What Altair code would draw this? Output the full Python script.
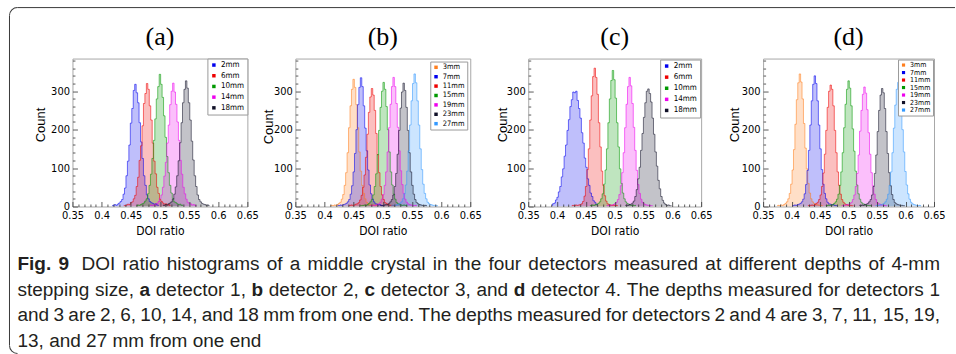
import math
import re
import altair as alt
import pandas as pd

# ---------------- data ----------------
BIN_WIDTH = 0.0025

a_labels = ["2mm", "6mm", "10mm", "14mm", "18mm"]
a_colors = ["#0000ee", "#ee0000", "#009900", "#ee00ee", "#101028"]
a_first = [0.418, 0.438, 0.460, 0.483, 0.505]
a_counts = [
    [2, 3, 5, 3, 6, 9, 13, 18, 32, 48, 80, 118, 160, 217, 255, 302, 318, 296, 270, 218, 168, 125, 80, 55, 30, 20, 13, 10, 8, 6, 7, 4, 3],
    [3, 2, 4, 6, 5, 10, 12, 20, 29, 52, 76, 120, 158, 210, 268, 294, 320, 305, 262, 225, 165, 118, 85, 50, 34, 18, 13, 9, 6, 7, 4, 5, 2],
    [2, 4, 3, 5, 7, 9, 14, 20, 33, 55, 84, 125, 172, 228, 280, 312, 344, 318, 284, 236, 180, 130, 88, 55, 35, 21, 12, 10, 7, 5, 6, 3, 4],
    [3, 4, 2, 5, 6, 8, 13, 21, 30, 50, 79, 115, 165, 212, 265, 300, 321, 298, 266, 220, 172, 120, 84, 50, 33, 19, 11, 8, 7, 4, 5, 3, 2],
    [4, 3, 5, 4, 7, 9, 12, 19, 32, 51, 80, 119, 166, 218, 270, 305, 327, 308, 270, 225, 170, 121, 80, 52, 30, 18, 12, 8, 6, 5, 3, 4, 2],
]

b_labels = ["3mm", "7mm", "11mm", "15mm", "19mm", "23mm", "27mm"]
b_colors = ["#ff7f1f", "#0000ee", "#ee0000", "#009900", "#ee00ee", "#101028", "#3399ff"]
b_first = [0.410, 0.4227, 0.4415, 0.4615, 0.4786, 0.4958, 0.5147]
b_counts = [
    [2, 3, 2, 4, 3, 5, 8, 11, 19, 31, 55, 88, 140, 205, 262, 305, 331, 310, 265, 205, 142, 92, 55, 34, 20, 11, 7, 5, 4, 3, 4, 2, 3],
    [3, 2, 4, 3, 5, 6, 8, 12, 18, 32, 54, 90, 138, 200, 265, 310, 335, 312, 262, 204, 145, 95, 56, 33, 19, 12, 7, 6, 4, 5, 3, 2, 3],
    [2, 3, 4, 3, 4, 6, 7, 10, 17, 29, 50, 82, 128, 188, 245, 285, 307, 290, 250, 190, 135, 88, 52, 30, 18, 10, 8, 5, 4, 3, 3, 2, 2],
    [3, 2, 3, 4, 3, 5, 8, 12, 18, 30, 52, 85, 135, 198, 258, 300, 323, 305, 260, 200, 142, 90, 56, 32, 19, 10, 7, 6, 4, 3, 4, 3, 2],
    [2, 3, 4, 2, 4, 6, 7, 11, 19, 31, 55, 90, 142, 205, 266, 312, 336, 312, 268, 206, 145, 93, 57, 34, 19, 11, 7, 5, 4, 3, 2, 3, 2],
    [3, 2, 3, 4, 5, 5, 8, 12, 18, 30, 52, 86, 136, 198, 256, 298, 321, 302, 258, 198, 140, 90, 55, 32, 18, 10, 7, 5, 4, 3, 2, 3, 2],
    [2, 3, 4, 3, 5, 6, 8, 12, 20, 33, 56, 92, 145, 212, 275, 320, 345, 322, 275, 212, 150, 96, 58, 34, 20, 11, 7, 5, 4, 3, 3, 2, 2],
]

c_labels = ["2mm", "6mm", "10mm", "14mm", "18mm"]
c_colors = ["#0000ee", "#ee0000", "#009900", "#ee00ee", "#101028"]
c_first = [0.391, 0.4255, 0.457, 0.486, 0.5186]
c_counts = [
    [3, 7, 9, 17, 24, 38, 52, 77, 98, 131, 160, 198, 226, 260, 278, 298, 296, 300, 276, 255, 230, 192, 165, 126, 102, 72, 55, 35, 26, 15, 11, 6, 5],
    [2, 3, 2, 4, 3, 4, 5, 7, 13, 27, 52, 96, 150, 225, 288, 338, 360, 336, 292, 218, 155, 92, 55, 28, 14, 7, 5, 4, 3, 4, 2, 3, 2],
    [2, 3, 4, 3, 5, 6, 8, 12, 20, 33, 58, 95, 150, 218, 280, 328, 354, 330, 282, 218, 155, 98, 60, 35, 20, 12, 8, 6, 4, 3, 4, 2, 3],
    [3, 2, 4, 3, 4, 5, 8, 11, 18, 31, 54, 88, 140, 205, 266, 312, 336, 314, 268, 206, 146, 94, 57, 34, 19, 11, 7, 5, 4, 3, 3, 2, 2],
    [3, 4, 3, 5, 6, 9, 14, 26, 44, 72, 102, 146, 190, 232, 270, 300, 306, 294, 272, 230, 188, 142, 105, 68, 46, 26, 16, 9, 5, 3, 4, 2, 2],
]

d_labels = ["3mm", "7mm", "11mm", "15mm", "19mm", "23mm", "27mm"]
d_colors = ["#ff7f1f", "#0000ee", "#ee0000", "#009900", "#ee00ee", "#101028", "#3399ff"]
d_first = [0.3746, 0.4008, 0.4287, 0.4601, 0.488, 0.519, 0.5474]
d_counts = [
    [2, 3, 2, 4, 3, 5, 8, 12, 20, 34, 58, 95, 148, 214, 278, 322, 345, 324, 280, 216, 152, 98, 60, 35, 20, 12, 8, 6, 5, 4, 3, 3, 2],
    [3, 2, 4, 3, 5, 6, 8, 12, 19, 33, 57, 94, 146, 212, 275, 318, 340, 320, 275, 212, 150, 96, 58, 34, 20, 11, 7, 6, 4, 5, 3, 2, 3],
    [2, 3, 3, 4, 3, 5, 8, 11, 18, 30, 52, 87, 136, 198, 258, 300, 316, 305, 262, 198, 140, 90, 55, 32, 18, 11, 7, 5, 4, 3, 3, 2, 2],
    [3, 2, 4, 3, 4, 5, 8, 12, 19, 32, 55, 90, 140, 205, 266, 305, 327, 308, 262, 202, 144, 92, 56, 33, 19, 11, 7, 6, 4, 3, 3, 2, 3],
    [2, 3, 3, 4, 5, 6, 8, 11, 18, 30, 52, 86, 134, 196, 250, 292, 311, 295, 252, 192, 136, 88, 54, 32, 18, 10, 7, 6, 4, 4, 3, 2, 2],
    [3, 2, 4, 3, 5, 6, 8, 12, 18, 30, 52, 86, 134, 195, 250, 290, 307, 296, 255, 195, 138, 88, 54, 31, 18, 10, 7, 5, 4, 3, 3, 2, 2],
    [2, 3, 3, 4, 5, 6, 8, 12, 19, 32, 55, 90, 140, 204, 264, 305, 323, 306, 262, 200, 142, 91, 56, 33, 19, 11, 7, 5, 4, 3, 2, 3, 2],
]

panel_titles = ["(a)", "(b)", "(c)", "(d)"]
x_major = [0.35, 0.4, 0.45, 0.5, 0.55, 0.6, 0.65]
x_minor = [round(0.35 + 0.01 * i, 2) for i in range(31)]
y_major = [0, 100, 200, 300]
y_minor = list(range(0, 381, 20))

caption_lines = [
    [("Fig. 9", True), ("  DOI ratio histograms of a middle crystal in the four detectors measured at different depths of 4-mm", False)],
    [("stepping size, ", False), ("a", True), (" detector 1, ", False), ("b", True), (" detector 2, ", False),
     ("c", True), (" detector 3, and ", False), ("d", True), (" detector 4. The depths measured for detectors 1", False)],
    [("and 3 are 2, 6, 10, 14, and 18 mm from one end. The depths measured for detectors 2 and 4 are 3, 7, 11, 15, 19,", False)],
    [("13, and 27 mm from one end", False)],
]

# ---------------- styling ----------------
NARROW = "Liberation Sans Narrow, Arial Narrow, DejaVu Sans Condensed, sans-serif"
SANS = "Liberation Sans, Arial, Helvetica, sans-serif"
SERIF = "Liberation Serif, Times New Roman, serif"
H = 148

X_MAJOR_TEST = "abs(datum.value*20 - round(datum.value*20)) < 0.001"
Y_MAJOR_TEST = "datum.value % 100 == 0"
dummy = pd.DataFrame({"v": [0]})


def make_panel(title, labels, colors, firsts, counts, width, legend_opts, count_x, count_y, extra=()):
    rows = []
    for lab, first, cs in zip(labels, firsts, counts):
        for i, c in enumerate(cs):
            rows.append({"series": lab, "ratio": round(first + i * BIN_WIDTH, 5), "count": c})
    df = pd.DataFrame(rows)
    xs = alt.Scale(domain=[0.35, 0.65], nice=False, zero=False)
    ys = alt.Scale(domain=[0, 385], nice=False, zero=True)
    area = alt.Chart(df).mark_area(
        interpolate="step", fillOpacity=0.25, clip=True,
        line={"strokeWidth": 0.7, "strokeOpacity": 0.8},
    ).encode(
        x=alt.X("ratio:Q", scale=xs, axis=alt.Axis(
            orient="bottom", values=x_major, format=".2~f", ticks=False, domain=False, grid=False,
            labelFont=NARROW, labelFontSize=11, labelColor="black", labelPadding=3,
            labelFlush=False, labelOverlap=False,
            title="DOI ratio", titleFont=NARROW, titleFontSize=12, titleFontWeight="normal",
            titleColor="black", titleX=width / 2, titleY=24, titleAlign="center", titleBaseline="middle")),
        y=alt.Y("count:Q", scale=ys, stack=None, axis=alt.Axis(
            orient="left", values=y_major, ticks=False, domain=False, grid=False,
            labelFont=NARROW, labelFontSize=11, labelColor="black", labelPadding=3, labelOverlap=False,
            title="Count", titleFont=SANS, titleFontSize=13, titleFontWeight="normal", titleColor="black",
            titleX=count_x, titleY=count_y, titleAngle=270, titleAlign="center", titleBaseline="middle")),
        color=alt.Color("series:N", scale=alt.Scale(domain=labels, range=colors), legend=alt.Legend(
            orient="top-right", title=None, symbolType="square", symbolStrokeWidth=0, symbolOpacity=1,
            labelFont=NARROW, labelColor="black", strokeColor="#9a9a9a", fillColor="white",
            labelOffset=3, **legend_opts)),
    )
    ticks = alt.Chart(df).mark_point(opacity=0).encode(
        x=alt.X("ratio:Q", scale=xs, axis=alt.Axis(
            orient="top", offset=-H, values=x_minor, labels=False, domain=False, grid=False,
            tickColor="#333333", tickWidth=0.8, zindex=2, title=None,
            tickSize={"condition": {"test": X_MAJOR_TEST, "value": 5}, "value": 2.5})),
        y=alt.Y("count:Q", scale=ys, axis=alt.Axis(
            orient="right", offset=-width, values=y_minor, labels=False, domain=False, grid=False,
            tickColor="#333333", tickWidth=0.8, zindex=2, title=None,
            tickSize={"condition": {"test": Y_MAJOR_TEST, "value": 5}, "value": 2.5})),
    )
    title_mark = alt.Chart(dummy).mark_text(
        text=title, font=SERIF, fontSize=26, align="center", baseline="alphabetic", color="black"
    ).encode(x=alt.value(width / 2), y=alt.value(-14))
    return alt.layer(area, ticks, title_mark, *extra).resolve_axis(x="independent", y="independent").properties(
        width=width, height=H)


def spacer(w):
    return alt.Chart(dummy).mark_point(opacity=0).encode(
        x=alt.value(0), y=alt.value(0)
    ).properties(width=w, height=H, view=alt.ViewBackground(stroke="transparent"))


# ---------------- caption (placed relative to panel (a)'s frame) ----------------
_chars = " !\"#$%&'()*+,-./0123456789:;<=>?@ABCDEFGHIJKLMNOPQRSTUVWXYZ[\\]^_`abcdefghijklmnopqrstuvwxyz{|}~"
_w = ([278, 278, 355, 556, 556, 889, 667, 191, 333, 333, 389, 584, 278, 333, 278, 278] + [556] * 10 +
      [278, 278, 584, 584, 584, 556, 1015] +
      [667, 667, 722, 722, 667, 611, 778, 722, 278, 500, 667, 556, 833, 722, 778, 667, 778, 722, 667, 611,
       722, 667, 944, 667, 667, 611] +
      [278, 278, 278, 469, 556, 333] +
      [556, 556, 500, 556, 556, 278, 556, 556, 222, 222, 500, 222, 833, 556, 556, 556, 556, 333, 500, 278,
       556, 500, 722, 500, 500, 500] +
      [334, 260, 334, 584])
HELV = dict(zip(_chars, _w))
HELVB = dict(HELV)
HELVB.update({"F": 611, "i": 278, "g": 611, "a": 556, "b": 611, "c": 556, "d": 611, "9": 556})


def units(s, bold=False):
    t = HELVB if bold else HELV
    return sum(t.get(ch, 556) for ch in s) / 1000.0


FS = 19.0
LINE_WIDTH = 923.0
CAP_X0 = -55                       # caption left edge relative to panel (a) frame
CAP_Y = [211.5, 237.2, 262.9, 288.6]
cap_layers = []
for li, (line, y) in enumerate(zip(caption_lines, CAP_Y)):
    toks = []
    pending = 0
    for text, bold in line:
        for part in re.split(r"( +)", text):
            if not part:
                continue
            if part.startswith(" "):
                pending += len(part)
            else:
                toks.append((part, bold, pending))
                pending = 0
    natural = sum(units(w, b) + n * 0.278 for w, b, n in toks) * FS
    gaps = sum(1 for _, _, n in toks if n > 0)
    extra = (LINE_WIDTH - natural) / gaps if (li < 3 and gaps) else 0.0
    x = CAP_X0
    for word, bold, n in toks:
        if n > 0:
            x += n * 0.278 * FS + extra
        cap_layers.append(alt.Chart(dummy).mark_text(
            text=word, font=SANS, fontSize=FS, fontWeight="bold" if bold else "normal",
            align="left", baseline="alphabetic", color="#231f20",
        ).encode(x=alt.value(x), y=alt.value(y)))
        x += units(word, bold) * FS

BORDER = "#3a3a3a"
cap_layers += [
    alt.Chart(dummy).mark_rule(color=BORDER, strokeWidth=1).encode(
        x=alt.value(-55), x2=alt.value(883), y=alt.value(-51)),
    alt.Chart(dummy).mark_rule(color=BORDER, strokeWidth=1).encode(
        x=alt.value(-63), y=alt.value(-43), y2=alt.value(287)),
    alt.Chart(dummy).mark_arc(radius=8.5, radius2=7.5, theta=3 * math.pi / 2, theta2=2 * math.pi,
                              color=BORDER).encode(x=alt.value(-55), y=alt.value(-43)),
    alt.Chart(dummy).mark_arc(radius=8.5, radius2=7.5, theta=math.pi, theta2=3 * math.pi / 2,
                              color=BORDER).encode(x=alt.value(-55), y=alt.value(287)),
]

pa = make_panel(panel_titles[0], a_labels, a_colors, a_first, a_counts, 175,
                dict(labelFontSize=8, rowPadding=2.7, padding=2.5, offset=0, symbolSize=12), -32, 66,
                extra=cap_layers)
pb = make_panel(panel_titles[1], b_labels, b_colors, b_first, b_counts, 175,
                dict(labelFontSize=7.5, rowPadding=0.4, padding=2, offset=3, symbolSize=12), -27, 68)
pc = make_panel(panel_titles[2], c_labels, c_colors, c_first, c_counts, 173,
                dict(labelFontSize=8, rowPadding=3.1, padding=2.5, offset=1, symbolSize=12), -26, 66)
pd_ = make_panel(panel_titles[3], d_labels, d_colors, d_first, d_counts, 171,
                 dict(labelFontSize=7, rowPadding=-0.5, padding=2, offset=1, symbolSize=10), -29, 66)

chart = alt.hconcat(pa, spacer(48), pb, spacer(58), pc, spacer(62), pd_, spacing=0, bounds="flush").resolve_scale(
    color="independent").resolve_legend(color="independent").properties(
    padding={"left": 8.5, "top": 6.5, "right": 0, "bottom": 0},
    background="white",
).configure_view(stroke="#a8a8a8", strokeWidth=1)

chart.save("out.html", embed_options={"renderer": "svg", "actions": False})
